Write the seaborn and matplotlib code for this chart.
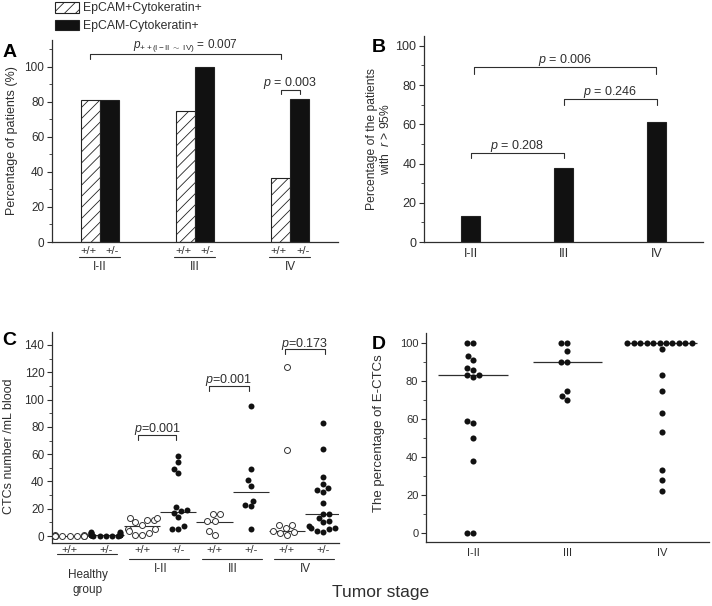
import matplotlib
matplotlib.use("Agg")
import matplotlib.pyplot as plt
import matplotlib.transforms as mtransforms
from matplotlib.patches import Patch
from matplotlib.ticker import MultipleLocator
import numpy as np
import pandas as pd
import seaborn as sns

# ---- data ----
stages = ["I-II", "III", "IV"]
marker_types = ["EpCAM+Cytokeratin+", "EpCAM-Cytokeratin+"]
pct_double_pos = [81.3, 75.0, 36.4]    # EpCAM+Cytokeratin+
pct_single_pos = [81.3, 100.0, 81.8]   # EpCAM-Cytokeratin+
pct_r95 = [13.3, 37.5, 61.1]

ctc_groups = ["Healthy +/+", "Healthy +/-", "I-II +/+", "I-II +/-",
              "III +/+", "III +/-", "IV +/+", "IV +/-"]
ctc_ticklabels = ["+/+", "+/-"] * 4
ctc_group_names = ["Healthy\ngroup", "I-II", "III", "IV"]
healthy_pp = [0, 0, 1, 0, 1, 0, 0, 0, 0, 0]
healthy_pm = [3, 2, 2, 1, 1, 1, 1, 0, 0, 0, 0, 2, 1, 0, 3, 1]
stage12_pp = [12, 12, 13, 13, 10, 8, 5, 5, 4, 2, 1, 1]
stage12_pm = [59, 54, 49, 46, 21, 19, 18, 17, 14, 7, 5, 5]
stage3_pp = [16, 16, 11, 11, 4, 1]
stage3_pm = [95, 49, 41, 37, 26, 23, 22, 5]
stage4_pp = [124, 63, 8, 8, 6, 4, 3, 2, 1]
stage4_pm = [83, 64, 43, 38, 35, 34, 32, 24, 16, 16, 13, 11, 10, 7, 6, 6, 5, 4, 3]
ctc_medians = [0, 0.5, 7, 17.5, 10.5, 32, 3.5, 16]

ectc_12 = [100, 100, 93, 91, 87, 86, 83, 83, 82, 59, 58, 50, 38, 0, 0]
ectc_3 = [100, 100, 96, 90, 90, 75, 72, 70]
ectc_4 = [100] * 11 + [97, 83, 75, 63, 53, 33, 28, 22]
ectc_medians = [83, 90, 100]

W, H = 712, 606
INK = "#2e2e2e"
BAR = "#111111"

sns.set_style("ticks")
plt.rcParams["font.family"] = ["Liberation Sans", "DejaVu Sans"]
plt.rcParams.update({
    "mathtext.fontset": "custom",
    "mathtext.rm": "Liberation Sans",
    "mathtext.it": "Liberation Sans:italic",
    "text.color": INK,
    "axes.labelcolor": INK,
    "xtick.color": INK,
    "ytick.color": INK,
    "hatch.linewidth": 0.6,
})


def box(left, top, right, bottom):
    return [left / W, 1 - bottom / H, (right - left) / W, (bottom - top) / H]


def style_axis(ax, fs):
    sns.despine(ax=ax)
    for s in ["left", "bottom"]:
        ax.spines[s].set_color(INK)
        ax.spines[s].set_linewidth(0.9)
    ax.yaxis.set_major_locator(MultipleLocator(20))
    ax.yaxis.set_minor_locator(MultipleLocator(10))
    ax.tick_params(axis="y", which="major", direction="out", length=3.5, width=0.8, labelsize=fs, pad=2)
    ax.tick_params(axis="y", which="minor", direction="out", length=2, width=0.6)
    ax.tick_params(axis="x", length=0, labelsize=fs, pad=4.5)
    ax.set_xlabel("")


def bracket(ax, x0, x1, y, drop, label, text_y, fs=9):
    ax.plot([x0, x0, x1, x1], [y - drop, y, y, y - drop], color=INK, lw=0.8, clip_on=False)
    ax.text((x0 + x1) / 2, text_y, label, ha="center", va="baseline", fontsize=fs)


fig = plt.figure(figsize=(W / 100, H / 100), dpi=100)
ax_a = fig.add_axes(box(52, 40, 338, 242))
ax_b = fig.add_axes(box(424, 36, 703, 242))
ax_c = fig.add_axes(box(52, 332, 339, 543))
ax_d = fig.add_axes(box(426, 333, 709, 542))

# ---- A ----
df_a = pd.DataFrame({
    "stage": stages * 2,
    "marker": [marker_types[0]] * 3 + [marker_types[1]] * 3,
    "pct": pct_double_pos + pct_single_pos,
})
sns.barplot(data=df_a, x="stage", y="pct", hue="marker", order=stages, hue_order=marker_types,
            palette=["white", BAR], edgecolor="#222222", linewidth=0.8, width=0.4,
            errorbar=None, legend=False, ax=ax_a)
for bar in ax_a.containers[0]:
    bar.set_hatch("///")
ax_a.set_xlim(-0.5, 2.5)
ax_a.set_ylim(0, 115.4)
style_axis(ax_a, 8.5)
ax_a.set_xticks([])
ax_a.set_ylabel("Percentage of patients (%)", fontsize=9)
ax_a.yaxis.set_label_coords(-0.119, 0.5)
tr_a = mtransforms.blended_transform_factory(ax_a.transData, ax_a.transAxes)
for i, name in enumerate(stages):
    ax_a.text(i - 0.12, -0.045, "+/+", transform=tr_a, ha="center", va="center", fontsize=8)
    ax_a.text(i + 0.13, -0.045, "+/-", transform=tr_a, ha="center", va="center", fontsize=8)
    ax_a.plot([i - 0.22, i + 0.21], [-0.074, -0.074], transform=tr_a, color=INK, lw=0.8, clip_on=False)
    ax_a.text(i, -0.126, name, transform=tr_a, ha="center", va="center", fontsize=8.5)
bracket(ax_a, -0.1, 1.9, 107.4, 2.8, r"$p_{\mathrm{++(I-II\ \sim\ IV)}}$ = 0.007", 110.9, fs=8.5)
bracket(ax_a, 1.9, 2.1, 87, 2.5, r"$p$ = 0.003", 89.3)

fig.legend(handles=[Patch(facecolor="white", edgecolor="#222222", hatch="///", lw=0.8),
                    Patch(facecolor=BAR, edgecolor="#222222", lw=0.8)],
           labels=marker_types, loc="upper left", bbox_to_anchor=(55 / W, 1 - 2 / H),
           frameon=False, fontsize=8.8, handlelength=2.0, handleheight=0.95,
           handletextpad=0.3, labelspacing=0.42, borderpad=0, borderaxespad=0)

# ---- B ----
sns.barplot(x=stages, y=pct_r95, order=stages, color=BAR, edgecolor="#222222",
            linewidth=0.8, width=0.2, errorbar=None, ax=ax_b)
ax_b.set_xlim(-0.5, 2.5)
ax_b.set_ylim(0, 105)
style_axis(ax_b, 9)
ax_b.set_ylabel("Percentage of the patients\nwith  $r$ > 95%", fontsize=8.7, linespacing=1.1)
ax_b.yaxis.set_label_coords(-0.115, 0.5)
bracket(ax_b, 0, 1, 45.3, 2.6, r"$p$ = 0.208", 47.4)
bracket(ax_b, 1, 2, 72.9, 2.9, r"$p$ = 0.246", 74.8)
bracket(ax_b, 0.04, 1.99, 89, 3.2, r"$p$ = 0.006", 91.3)

# ---- C ----
ctc_values = [healthy_pp, healthy_pm, stage12_pp, stage12_pm,
              stage3_pp, stage3_pm, stage4_pp, stage4_pm]
df_c = pd.DataFrame({
    "group": np.repeat(ctc_groups, [len(v) for v in ctc_values]),
    "ctc": np.concatenate(ctc_values),
})
df_c["kind"] = np.where(df_c["group"].str.endswith("+/+"), "open", "filled")
sns.swarmplot(data=df_c[df_c["kind"] == "open"], x="group", y="ctc", order=ctc_groups,
              color="white", edgecolor="#333333", linewidth=0.7, size=4.3, warn_thresh=1, ax=ax_c)
sns.swarmplot(data=df_c[df_c["kind"] == "filled"], x="group", y="ctc", order=ctc_groups,
              color=BAR, size=4.3, warn_thresh=1, ax=ax_c)
ax_c.hlines(ctc_medians, np.arange(8) - 0.5, np.arange(8) + 0.5, color=INK, lw=0.8)
ax_c.set_xlim(-0.49, 7.44)
ax_c.set_ylim(-5.1, 149.5)
style_axis(ax_c, 8.5)
ax_c.set_xticks([])
ax_c.set_ylabel("CTCs number /mL blood", fontsize=9)
ax_c.yaxis.set_label_coords(-0.129, 0.46)
tr_c = mtransforms.blended_transform_factory(ax_c.transData, ax_c.transAxes)
for i, lab in enumerate(ctc_ticklabels):
    ax_c.text(i, -0.033, lab, transform=tr_c, ha="center", va="center", fontsize=8)
for g, name in enumerate(ctc_group_names):
    line_y = -0.052 if g == 0 else -0.076
    ax_c.plot([2 * g - 0.35, 2 * g + 1.3], [line_y, line_y], transform=tr_c, color=INK, lw=0.8, clip_on=False)
    ax_c.text(2 * g + 0.5, -0.123, name, transform=tr_c, ha="center", va="top" if g == 0 else "center",
              fontsize=8.5, linespacing=1.35)
bracket(ax_c, 1.9, 2.95, 74, 3.6, r"$p$=0.001", 76.5)
bracket(ax_c, 3.85, 4.95, 110, 3.6, r"$p$=0.001", 112)
bracket(ax_c, 5.95, 7.05, 137, 3.6, r"$p$=0.173", 138.8)

# ---- D ----
ectc_values = [ectc_12, ectc_3, ectc_4]
df_d = pd.DataFrame({
    "stage": np.repeat(stages, [len(v) for v in ectc_values]),
    "pct": np.concatenate(ectc_values),
})
sns.swarmplot(data=df_d, x="stage", y="pct", order=stages, color=BAR, size=4.4, warn_thresh=1, ax=ax_d)
ax_d.hlines(ectc_medians, np.arange(3) - 0.37, np.arange(3) + 0.37, color=INK, lw=0.9)
ax_d.set_xlim(-0.5, 2.5)
ax_d.set_ylim(-4.7, 105.3)
style_axis(ax_d, 8)
ax_d.set_ylabel("The percentage of E-CTCs", fontsize=9.5)
ax_d.yaxis.set_label_coords(-0.145, 0.52)

fig.text(381 / W, 1 - 593 / H, "Tumor stage", ha="center", va="center", fontsize=12.5)
for letter, (lx, ly) in zip("ABCD", [(3, 44), (372, 39), (2, 332), (372, 336)]):
    fig.text(lx / W, 1 - ly / H, letter, ha="left", va="top", fontsize=14, fontweight="bold", color="black")

fig.savefig("out.png", dpi=100)
